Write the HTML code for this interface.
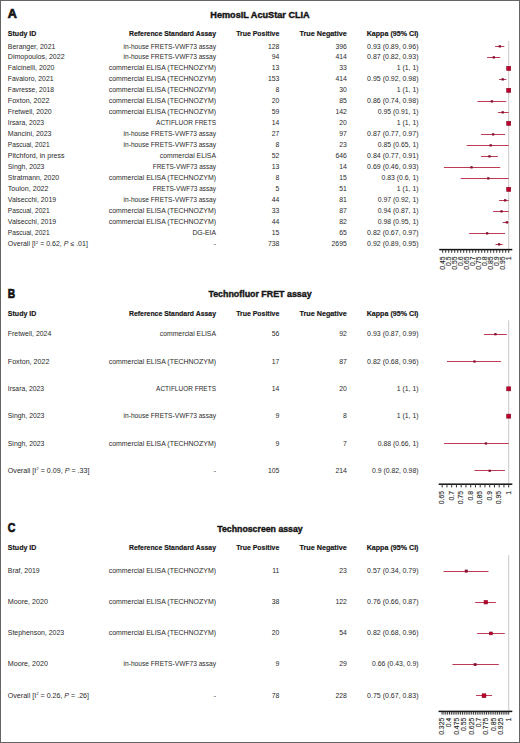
<!DOCTYPE html>
<html><head><meta charset="utf-8"><title>Forest plots</title>
<style>
html,body{margin:0;padding:0;background:#fff;}
body{width:520px;height:743px;overflow:hidden;}
svg{display:block;}
text{font-family:"Liberation Sans",sans-serif;font-size:6.85px;fill:#2a2a2a;stroke:#2a2a2a;stroke-width:0px;}
</style></head>
<body>
<svg width="520" height="743" viewBox="0 0 520 743">
<rect x="0" y="0" width="520" height="743" fill="#fff"/>
<text x="7.70" y="18.15" font-weight="bold" style="fill:#141414;stroke:#141414;font-size:12.6px;stroke-width:0.7px">A</text>
<text x="260.00" y="17.70" text-anchor="middle" font-weight="bold" style="fill:#141414;stroke:#141414;font-size:9.3px;stroke-width:0.4px" textLength="99.40" lengthAdjust="spacingAndGlyphs">HemosIL AcuStar CLIA</text>
<text x="7.80" y="36.00" font-weight="bold" style="fill:#141414;stroke:#141414;stroke-width:0.15px" textLength="28.56" lengthAdjust="spacingAndGlyphs">Study ID</text>
<text x="216.00" y="36.00" text-anchor="end" font-weight="bold" style="fill:#141414;stroke:#141414;stroke-width:0.15px" textLength="87.03" lengthAdjust="spacingAndGlyphs">Reference Standard Assay</text>
<text x="279.30" y="36.00" text-anchor="end" font-weight="bold" style="fill:#141414;stroke:#141414;stroke-width:0.15px" textLength="43.10" lengthAdjust="spacingAndGlyphs">True Positive</text>
<text x="346.80" y="36.00" text-anchor="end" font-weight="bold" style="fill:#141414;stroke:#141414;stroke-width:0.15px" textLength="47.38" lengthAdjust="spacingAndGlyphs">True Negative</text>
<text x="418.50" y="36.00" text-anchor="end" font-weight="bold" style="fill:#141414;stroke:#141414;stroke-width:0.15px" textLength="51.82" lengthAdjust="spacingAndGlyphs">Kappa (95% CI)</text>
<rect x="508.20" y="41.00" width="1.0" height="208.60" fill="#c9c9c9"/>
<text x="7.80" y="48.50" textLength="47.60" lengthAdjust="spacingAndGlyphs">Beranger, 2021</text>
<text x="216.00" y="48.50" text-anchor="end" textLength="92.46" lengthAdjust="spacingAndGlyphs">in-house FRETS-VWF73 assay</text>
<text x="279.30" y="48.50" text-anchor="end">128</text>
<text x="346.80" y="48.50" text-anchor="end">396</text>
<text x="418.50" y="48.50" text-anchor="end" textLength="51.42" lengthAdjust="spacingAndGlyphs">0.93 (0.89, 0.96)</text>
<rect x="495.14" y="46.00" width="9.12" height="1" fill="#bd3a55"/>
<rect x="498.67" y="45.20" width="2.30" height="2.30" fill="#861030"/>
<text x="7.80" y="59.48" textLength="56.76" lengthAdjust="spacingAndGlyphs">Dimopoulos, 2022</text>
<text x="216.00" y="59.48" text-anchor="end" textLength="92.46" lengthAdjust="spacingAndGlyphs">in-house FRETS-VWF73 assay</text>
<text x="279.30" y="59.48" text-anchor="end">94</text>
<text x="346.80" y="59.48" text-anchor="end">414</text>
<text x="418.50" y="59.48" text-anchor="end" textLength="51.42" lengthAdjust="spacingAndGlyphs">0.87 (0.82, 0.93)</text>
<rect x="487.10" y="57.00" width="13.20" height="1" fill="#bd3a55"/>
<rect x="492.67" y="56.20" width="2.30" height="2.30" fill="#861030"/>
<text x="7.80" y="70.47" textLength="46.65" lengthAdjust="spacingAndGlyphs">Falcinelli, 2020</text>
<text x="216.00" y="70.47" text-anchor="end" textLength="107.29" lengthAdjust="spacingAndGlyphs">commercial ELISA (TECHNOZYM)</text>
<text x="279.30" y="70.47" text-anchor="end">13</text>
<text x="346.80" y="70.47" text-anchor="end">33</text>
<text x="418.50" y="70.47" text-anchor="end">1 (1, 1)</text>
<rect x="506.70" y="66.35" width="4.00" height="4.00" fill="#bb002d" stroke="#8a0020" stroke-width="0.6"/>
<text x="7.80" y="81.45" textLength="45.75" lengthAdjust="spacingAndGlyphs">Favaloro, 2021</text>
<text x="216.00" y="81.45" text-anchor="end" textLength="107.29" lengthAdjust="spacingAndGlyphs">commercial ELISA (TECHNOZYM)</text>
<text x="279.30" y="81.45" text-anchor="end">153</text>
<text x="346.80" y="81.45" text-anchor="end">414</text>
<text x="418.50" y="81.45" text-anchor="end" textLength="51.42" lengthAdjust="spacingAndGlyphs">0.95 (0.92, 0.98)</text>
<rect x="499.10" y="79.00" width="7.20" height="1" fill="#bd3a55"/>
<rect x="501.55" y="78.20" width="2.30" height="2.30" fill="#861030"/>
<text x="7.80" y="92.44" textLength="46.17" lengthAdjust="spacingAndGlyphs">Favresse, 2018</text>
<text x="216.00" y="92.44" text-anchor="end" textLength="107.29" lengthAdjust="spacingAndGlyphs">commercial ELISA (TECHNOZYM)</text>
<text x="279.30" y="92.44" text-anchor="end">8</text>
<text x="346.80" y="92.44" text-anchor="end">30</text>
<text x="418.50" y="92.44" text-anchor="end">1 (1, 1)</text>
<rect x="506.70" y="88.35" width="4.00" height="4.00" fill="#bb002d" stroke="#8a0020" stroke-width="0.6"/>
<text x="7.80" y="103.42" textLength="41.65" lengthAdjust="spacingAndGlyphs">Foxton, 2022</text>
<text x="216.00" y="103.42" text-anchor="end" textLength="107.29" lengthAdjust="spacingAndGlyphs">commercial ELISA (TECHNOZYM)</text>
<text x="279.30" y="103.42" text-anchor="end">20</text>
<text x="346.80" y="103.42" text-anchor="end">85</text>
<text x="418.50" y="103.42" text-anchor="end" textLength="51.42" lengthAdjust="spacingAndGlyphs">0.86 (0.74, 0.98)</text>
<rect x="477.50" y="101.00" width="28.80" height="1" fill="#bd3a55"/>
<rect x="490.75" y="100.20" width="2.30" height="2.30" fill="#861030"/>
<text x="7.80" y="114.41" textLength="43.88" lengthAdjust="spacingAndGlyphs">Fretwell, 2020</text>
<text x="216.00" y="114.41" text-anchor="end" textLength="107.29" lengthAdjust="spacingAndGlyphs">commercial ELISA (TECHNOZYM)</text>
<text x="279.30" y="114.41" text-anchor="end">59</text>
<text x="346.80" y="114.41" text-anchor="end">142</text>
<text x="418.50" y="114.41" text-anchor="end">0.95 (0.91, 1)</text>
<rect x="497.90" y="112.00" width="10.80" height="1" fill="#bd3a55"/>
<rect x="501.55" y="111.20" width="2.30" height="2.30" fill="#861030"/>
<text x="7.80" y="125.39" textLength="36.32" lengthAdjust="spacingAndGlyphs">Irsara, 2023</text>
<text x="216.00" y="125.39" text-anchor="end" textLength="59.92" lengthAdjust="spacingAndGlyphs">ACTIFLUOR FRETS</text>
<text x="279.30" y="125.39" text-anchor="end">14</text>
<text x="346.80" y="125.39" text-anchor="end">20</text>
<text x="418.50" y="125.39" text-anchor="end">1 (1, 1)</text>
<rect x="506.70" y="121.35" width="4.00" height="4.00" fill="#bb002d" stroke="#8a0020" stroke-width="0.6"/>
<text x="7.80" y="136.38" textLength="43.71" lengthAdjust="spacingAndGlyphs">Mancini, 2023</text>
<text x="216.00" y="136.38" text-anchor="end" textLength="92.46" lengthAdjust="spacingAndGlyphs">in-house FRETS-VWF73 assay</text>
<text x="279.30" y="136.38" text-anchor="end">27</text>
<text x="346.80" y="136.38" text-anchor="end">97</text>
<text x="418.50" y="136.38" text-anchor="end" textLength="51.42" lengthAdjust="spacingAndGlyphs">0.87 (0.77, 0.97)</text>
<rect x="481.10" y="134.00" width="24.00" height="1" fill="#bd3a55"/>
<rect x="491.95" y="133.20" width="2.30" height="2.30" fill="#861030"/>
<text x="7.80" y="147.37" textLength="41.87" lengthAdjust="spacingAndGlyphs">Pascual, 2021</text>
<text x="216.00" y="147.37" text-anchor="end" textLength="92.46" lengthAdjust="spacingAndGlyphs">in-house FRETS-VWF73 assay</text>
<text x="279.30" y="147.37" text-anchor="end">8</text>
<text x="346.80" y="147.37" text-anchor="end">23</text>
<text x="418.50" y="147.37" text-anchor="end">0.85 (0.65, 1)</text>
<rect x="466.70" y="145.00" width="42.00" height="1" fill="#bd3a55"/>
<rect x="489.55" y="144.20" width="2.30" height="2.30" fill="#861030"/>
<text x="7.80" y="158.35" textLength="56.77" lengthAdjust="spacingAndGlyphs">Pitchford, in press</text>
<text x="216.00" y="158.35" text-anchor="end">commercial ELISA</text>
<text x="279.30" y="158.35" text-anchor="end">52</text>
<text x="346.80" y="158.35" text-anchor="end">646</text>
<text x="418.50" y="158.35" text-anchor="end" textLength="51.42" lengthAdjust="spacingAndGlyphs">0.84 (0.77, 0.91)</text>
<rect x="481.10" y="156.00" width="16.80" height="1" fill="#bd3a55"/>
<rect x="488.35" y="155.20" width="2.30" height="2.30" fill="#861030"/>
<text x="7.80" y="169.33" textLength="36.63" lengthAdjust="spacingAndGlyphs">Singh, 2023</text>
<text x="216.00" y="169.33" text-anchor="end" textLength="63.21" lengthAdjust="spacingAndGlyphs">FRETS-VWF73 assay</text>
<text x="279.30" y="169.33" text-anchor="end">13</text>
<text x="346.80" y="169.33" text-anchor="end">14</text>
<text x="418.50" y="169.33" text-anchor="end" textLength="51.42" lengthAdjust="spacingAndGlyphs">0.69 (0.46, 0.93)</text>
<rect x="443.90" y="167.00" width="56.40" height="1" fill="#bd3a55"/>
<rect x="470.35" y="166.20" width="2.30" height="2.30" fill="#861030"/>
<text x="7.80" y="180.32" textLength="51.40" lengthAdjust="spacingAndGlyphs">Stratmann, 2020</text>
<text x="216.00" y="180.32" text-anchor="end" textLength="107.29" lengthAdjust="spacingAndGlyphs">commercial ELISA (TECHNOZYM)</text>
<text x="279.30" y="180.32" text-anchor="end">8</text>
<text x="346.80" y="180.32" text-anchor="end">15</text>
<text x="418.50" y="180.32" text-anchor="end">0.83 (0.6, 1)</text>
<rect x="460.70" y="178.00" width="48.00" height="1" fill="#bd3a55"/>
<rect x="487.15" y="177.20" width="2.30" height="2.30" fill="#861030"/>
<text x="7.80" y="191.31" textLength="40.69" lengthAdjust="spacingAndGlyphs">Toulon, 2022</text>
<text x="216.00" y="191.31" text-anchor="end" textLength="63.21" lengthAdjust="spacingAndGlyphs">FRETS-VWF73 assay</text>
<text x="279.30" y="191.31" text-anchor="end">5</text>
<text x="346.80" y="191.31" text-anchor="end">51</text>
<text x="418.50" y="191.31" text-anchor="end">1 (1, 1)</text>
<rect x="506.70" y="187.35" width="4.00" height="4.00" fill="#bb002d" stroke="#8a0020" stroke-width="0.6"/>
<text x="7.80" y="202.29" textLength="48.31" lengthAdjust="spacingAndGlyphs">Valsecchi, 2019</text>
<text x="216.00" y="202.29" text-anchor="end" textLength="92.46" lengthAdjust="spacingAndGlyphs">in-house FRETS-VWF73 assay</text>
<text x="279.30" y="202.29" text-anchor="end">44</text>
<text x="346.80" y="202.29" text-anchor="end">81</text>
<text x="418.50" y="202.29" text-anchor="end">0.97 (0.92, 1)</text>
<rect x="499.10" y="200.00" width="9.60" height="1" fill="#bd3a55"/>
<rect x="503.95" y="199.20" width="2.30" height="2.30" fill="#861030"/>
<text x="7.80" y="213.27" textLength="41.87" lengthAdjust="spacingAndGlyphs">Pascual, 2021</text>
<text x="216.00" y="213.27" text-anchor="end" textLength="107.29" lengthAdjust="spacingAndGlyphs">commercial ELISA (TECHNOZYM)</text>
<text x="279.30" y="213.27" text-anchor="end">33</text>
<text x="346.80" y="213.27" text-anchor="end">87</text>
<text x="418.50" y="213.27" text-anchor="end">0.94 (0.87, 1)</text>
<rect x="493.10" y="211.00" width="15.60" height="1" fill="#bd3a55"/>
<rect x="500.35" y="210.20" width="2.30" height="2.30" fill="#861030"/>
<text x="7.80" y="224.26" textLength="48.31" lengthAdjust="spacingAndGlyphs">Valsecchi, 2019</text>
<text x="216.00" y="224.26" text-anchor="end" textLength="107.29" lengthAdjust="spacingAndGlyphs">commercial ELISA (TECHNOZYM)</text>
<text x="279.30" y="224.26" text-anchor="end">44</text>
<text x="346.80" y="224.26" text-anchor="end">82</text>
<text x="418.50" y="224.26" text-anchor="end">0.98 (0.95, 1)</text>
<rect x="502.70" y="222.00" width="6.00" height="1" fill="#bd3a55"/>
<rect x="505.75" y="221.20" width="2.30" height="2.30" fill="#861030"/>
<text x="7.80" y="235.25" textLength="41.87" lengthAdjust="spacingAndGlyphs">Pascual, 2021</text>
<text x="216.00" y="235.25" text-anchor="end">DG-EIA</text>
<text x="279.30" y="235.25" text-anchor="end">15</text>
<text x="346.80" y="235.25" text-anchor="end">65</text>
<text x="418.50" y="235.25" text-anchor="end" textLength="51.42" lengthAdjust="spacingAndGlyphs">0.82 (0.67, 0.97)</text>
<rect x="469.10" y="233.00" width="36.00" height="1" fill="#bd3a55"/>
<rect x="485.95" y="232.20" width="2.30" height="2.30" fill="#861030"/>
<text x="7.80" y="246.23" textLength="80.07" lengthAdjust="spacingAndGlyphs">Overall [I<tspan style="font-size:4.2px" dy="-2.6">2</tspan><tspan dy="2.6"> = 0.62, </tspan><tspan font-style="italic">P</tspan> &#8804; .01]</text>
<text x="216.00" y="246.23" text-anchor="end">-</text>
<text x="279.30" y="246.23" text-anchor="end">738</text>
<text x="346.80" y="246.23" text-anchor="end">2695</text>
<text x="418.50" y="246.23" text-anchor="end" textLength="51.42" lengthAdjust="spacingAndGlyphs">0.92 (0.89, 0.95)</text>
<rect x="495.50" y="244.00" width="7.20" height="1" fill="#bd3a55"/>
<rect x="497.95" y="243.20" width="2.30" height="2.30" fill="#861030"/>
<rect x="439.20" y="248.85" width="73.10" height="1.5" fill="#111"/>
<rect x="442.20" y="249.60" width="1.0" height="3.2" fill="#333"/>
<rect x="445.20" y="249.60" width="1.0" height="3.2" fill="#333"/>
<rect x="448.20" y="249.60" width="1.0" height="3.2" fill="#333"/>
<rect x="451.20" y="249.60" width="1.0" height="3.2" fill="#333"/>
<rect x="454.20" y="249.60" width="1.0" height="3.2" fill="#333"/>
<rect x="457.20" y="249.60" width="1.0" height="3.2" fill="#333"/>
<rect x="460.20" y="249.60" width="1.0" height="3.2" fill="#333"/>
<rect x="463.20" y="249.60" width="1.0" height="3.2" fill="#333"/>
<rect x="466.20" y="249.60" width="1.0" height="3.2" fill="#333"/>
<rect x="469.20" y="249.60" width="1.0" height="3.2" fill="#333"/>
<rect x="472.20" y="249.60" width="1.0" height="3.2" fill="#333"/>
<rect x="475.20" y="249.60" width="1.0" height="3.2" fill="#333"/>
<rect x="478.20" y="249.60" width="1.0" height="3.2" fill="#333"/>
<rect x="481.20" y="249.60" width="1.0" height="3.2" fill="#333"/>
<rect x="484.20" y="249.60" width="1.0" height="3.2" fill="#333"/>
<rect x="487.20" y="249.60" width="1.0" height="3.2" fill="#333"/>
<rect x="490.20" y="249.60" width="1.0" height="3.2" fill="#333"/>
<rect x="493.20" y="249.60" width="1.0" height="3.2" fill="#333"/>
<rect x="496.20" y="249.60" width="1.0" height="3.2" fill="#333"/>
<rect x="499.20" y="249.60" width="1.0" height="3.2" fill="#333"/>
<rect x="502.20" y="249.60" width="1.0" height="3.2" fill="#333"/>
<rect x="505.20" y="249.60" width="1.0" height="3.2" fill="#333"/>
<rect x="508.20" y="249.60" width="1.0" height="3.2" fill="#333"/>
<text transform="translate(444.65,256.40) rotate(-90)" text-anchor="end" style="font-size:6.85px;stroke-width:0.12px">0.45</text>
<text transform="translate(450.65,256.40) rotate(-90)" text-anchor="end" style="font-size:6.85px;stroke-width:0.12px">0.5</text>
<text transform="translate(456.65,256.40) rotate(-90)" text-anchor="end" style="font-size:6.85px;stroke-width:0.12px">0.55</text>
<text transform="translate(462.65,256.40) rotate(-90)" text-anchor="end" style="font-size:6.85px;stroke-width:0.12px">0.6</text>
<text transform="translate(468.65,256.40) rotate(-90)" text-anchor="end" style="font-size:6.85px;stroke-width:0.12px">0.65</text>
<text transform="translate(474.65,256.40) rotate(-90)" text-anchor="end" style="font-size:6.85px;stroke-width:0.12px">0.7</text>
<text transform="translate(480.65,256.40) rotate(-90)" text-anchor="end" style="font-size:6.85px;stroke-width:0.12px">0.75</text>
<text transform="translate(486.65,256.40) rotate(-90)" text-anchor="end" style="font-size:6.85px;stroke-width:0.12px">0.8</text>
<text transform="translate(492.65,256.40) rotate(-90)" text-anchor="end" style="font-size:6.85px;stroke-width:0.12px">0.85</text>
<text transform="translate(498.65,256.40) rotate(-90)" text-anchor="end" style="font-size:6.85px;stroke-width:0.12px">0.9</text>
<text transform="translate(504.65,256.40) rotate(-90)" text-anchor="end" style="font-size:6.85px;stroke-width:0.12px">0.95</text>
<text transform="translate(510.65,256.40) rotate(-90)" text-anchor="end" style="font-size:6.85px;stroke-width:0.12px">1</text>
<text x="7.70" y="297.65" font-weight="bold" style="fill:#141414;stroke:#141414;font-size:12.6px;stroke-width:0.7px" textLength="7.40" lengthAdjust="spacingAndGlyphs">B</text>
<text x="260.00" y="297.20" text-anchor="middle" font-weight="bold" style="fill:#141414;stroke:#141414;font-size:9.3px;stroke-width:0.4px" textLength="103.20" lengthAdjust="spacingAndGlyphs">Technofluor FRET assay</text>
<text x="7.80" y="315.50" font-weight="bold" style="fill:#141414;stroke:#141414;stroke-width:0.15px" textLength="28.56" lengthAdjust="spacingAndGlyphs">Study ID</text>
<text x="216.00" y="315.50" text-anchor="end" font-weight="bold" style="fill:#141414;stroke:#141414;stroke-width:0.15px" textLength="87.03" lengthAdjust="spacingAndGlyphs">Reference Standard Assay</text>
<text x="279.30" y="315.50" text-anchor="end" font-weight="bold" style="fill:#141414;stroke:#141414;stroke-width:0.15px" textLength="43.10" lengthAdjust="spacingAndGlyphs">True Positive</text>
<text x="346.80" y="315.50" text-anchor="end" font-weight="bold" style="fill:#141414;stroke:#141414;stroke-width:0.15px" textLength="47.38" lengthAdjust="spacingAndGlyphs">True Negative</text>
<text x="418.50" y="315.50" text-anchor="end" font-weight="bold" style="fill:#141414;stroke:#141414;stroke-width:0.15px" textLength="51.82" lengthAdjust="spacingAndGlyphs">Kappa (95% CI)</text>
<rect x="508.20" y="320.40" width="1.0" height="163.80" fill="#c9c9c9"/>
<text x="7.80" y="336.30" textLength="43.48" lengthAdjust="spacingAndGlyphs">Fretwell, 2024</text>
<text x="216.00" y="336.30" text-anchor="end">commercial ELISA</text>
<text x="279.30" y="336.30" text-anchor="end">56</text>
<text x="346.80" y="336.30" text-anchor="end">92</text>
<text x="418.50" y="336.30" text-anchor="end" textLength="51.42" lengthAdjust="spacingAndGlyphs">0.93 (0.87, 0.99)</text>
<rect x="484.00" y="334.00" width="22.80" height="1" fill="#bd3a55"/>
<rect x="494.25" y="333.05" width="2.30" height="2.30" fill="#861030"/>
<text x="7.80" y="363.60" textLength="41.65" lengthAdjust="spacingAndGlyphs">Foxton, 2022</text>
<text x="216.00" y="363.60" text-anchor="end" textLength="107.29" lengthAdjust="spacingAndGlyphs">commercial ELISA (TECHNOZYM)</text>
<text x="279.30" y="363.60" text-anchor="end">17</text>
<text x="346.80" y="363.60" text-anchor="end">87</text>
<text x="418.50" y="363.60" text-anchor="end" textLength="51.42" lengthAdjust="spacingAndGlyphs">0.82 (0.68, 0.96)</text>
<rect x="446.95" y="361.00" width="54.15" height="1" fill="#bd3a55"/>
<rect x="473.35" y="360.37" width="2.30" height="2.30" fill="#861030"/>
<text x="7.80" y="390.90" textLength="36.32" lengthAdjust="spacingAndGlyphs">Irsara, 2023</text>
<text x="216.00" y="390.90" text-anchor="end" textLength="59.92" lengthAdjust="spacingAndGlyphs">ACTIFLUOR FRETS</text>
<text x="279.30" y="390.90" text-anchor="end">14</text>
<text x="346.80" y="390.90" text-anchor="end">20</text>
<text x="418.50" y="390.90" text-anchor="end">1 (1, 1)</text>
<rect x="506.70" y="386.84" width="4.00" height="4.00" fill="#bb002d" stroke="#8a0020" stroke-width="0.6"/>
<text x="7.80" y="418.20" textLength="36.63" lengthAdjust="spacingAndGlyphs">Singh, 2023</text>
<text x="216.00" y="418.20" text-anchor="end" textLength="92.46" lengthAdjust="spacingAndGlyphs">in-house FRETS-VWF73 assay</text>
<text x="279.30" y="418.20" text-anchor="end">9</text>
<text x="346.80" y="418.20" text-anchor="end">8</text>
<text x="418.50" y="418.20" text-anchor="end">1 (1, 1)</text>
<rect x="506.70" y="414.16" width="4.00" height="4.00" fill="#bb002d" stroke="#8a0020" stroke-width="0.6"/>
<text x="7.80" y="445.50" textLength="36.63" lengthAdjust="spacingAndGlyphs">Singh, 2023</text>
<text x="216.00" y="445.50" text-anchor="end" textLength="107.29" lengthAdjust="spacingAndGlyphs">commercial ELISA (TECHNOZYM)</text>
<text x="279.30" y="445.50" text-anchor="end">9</text>
<text x="346.80" y="445.50" text-anchor="end">7</text>
<text x="418.50" y="445.50" text-anchor="end">0.88 (0.66, 1)</text>
<rect x="444.10" y="443.00" width="64.60" height="1" fill="#bd3a55"/>
<rect x="484.75" y="442.33" width="2.30" height="2.30" fill="#861030"/>
<text x="7.80" y="472.80" textLength="81.61" lengthAdjust="spacingAndGlyphs">Overall [I<tspan style="font-size:4.2px" dy="-2.6">2</tspan><tspan dy="2.6"> = 0.09, </tspan><tspan font-style="italic">P</tspan> = .33]</text>
<text x="216.00" y="472.80" text-anchor="end">-</text>
<text x="279.30" y="472.80" text-anchor="end">105</text>
<text x="346.80" y="472.80" text-anchor="end">214</text>
<text x="418.50" y="472.80" text-anchor="end">0.9 (0.82, 0.98)</text>
<rect x="474.50" y="470.00" width="30.40" height="1" fill="#bd3a55"/>
<rect x="488.55" y="469.65" width="2.30" height="2.30" fill="#861030"/>
<rect x="438.70" y="483.45" width="73.60" height="1.5" fill="#111"/>
<rect x="441.70" y="484.20" width="1.0" height="3.2" fill="#333"/>
<rect x="446.45" y="484.20" width="1.0" height="3.2" fill="#333"/>
<rect x="451.20" y="484.20" width="1.0" height="3.2" fill="#333"/>
<rect x="455.95" y="484.20" width="1.0" height="3.2" fill="#333"/>
<rect x="460.70" y="484.20" width="1.0" height="3.2" fill="#333"/>
<rect x="465.45" y="484.20" width="1.0" height="3.2" fill="#333"/>
<rect x="470.20" y="484.20" width="1.0" height="3.2" fill="#333"/>
<rect x="474.95" y="484.20" width="1.0" height="3.2" fill="#333"/>
<rect x="479.70" y="484.20" width="1.0" height="3.2" fill="#333"/>
<rect x="484.45" y="484.20" width="1.0" height="3.2" fill="#333"/>
<rect x="489.20" y="484.20" width="1.0" height="3.2" fill="#333"/>
<rect x="493.95" y="484.20" width="1.0" height="3.2" fill="#333"/>
<rect x="498.70" y="484.20" width="1.0" height="3.2" fill="#333"/>
<rect x="503.45" y="484.20" width="1.0" height="3.2" fill="#333"/>
<rect x="508.20" y="484.20" width="1.0" height="3.2" fill="#333"/>
<text transform="translate(444.15,491.00) rotate(-90)" text-anchor="end" style="font-size:6.85px;stroke-width:0.12px">0.65</text>
<text transform="translate(453.65,491.00) rotate(-90)" text-anchor="end" style="font-size:6.85px;stroke-width:0.12px">0.7</text>
<text transform="translate(463.15,491.00) rotate(-90)" text-anchor="end" style="font-size:6.85px;stroke-width:0.12px">0.75</text>
<text transform="translate(472.65,491.00) rotate(-90)" text-anchor="end" style="font-size:6.85px;stroke-width:0.12px">0.8</text>
<text transform="translate(482.15,491.00) rotate(-90)" text-anchor="end" style="font-size:6.85px;stroke-width:0.12px">0.85</text>
<text transform="translate(491.65,491.00) rotate(-90)" text-anchor="end" style="font-size:6.85px;stroke-width:0.12px">0.9</text>
<text transform="translate(501.15,491.00) rotate(-90)" text-anchor="end" style="font-size:6.85px;stroke-width:0.12px">0.95</text>
<text transform="translate(510.65,491.00) rotate(-90)" text-anchor="end" style="font-size:6.85px;stroke-width:0.12px">1</text>
<text x="7.70" y="532.15" font-weight="bold" style="fill:#141414;stroke:#141414;font-size:12.6px;stroke-width:0.7px" textLength="7.60" lengthAdjust="spacingAndGlyphs">C</text>
<text x="260.00" y="531.70" text-anchor="middle" font-weight="bold" style="fill:#141414;stroke:#141414;font-size:9.3px;stroke-width:0.4px" textLength="85.40" lengthAdjust="spacingAndGlyphs">Technoscreen assay</text>
<text x="7.80" y="550.00" font-weight="bold" style="fill:#141414;stroke:#141414;stroke-width:0.15px" textLength="28.56" lengthAdjust="spacingAndGlyphs">Study ID</text>
<text x="216.00" y="550.00" text-anchor="end" font-weight="bold" style="fill:#141414;stroke:#141414;stroke-width:0.15px" textLength="87.03" lengthAdjust="spacingAndGlyphs">Reference Standard Assay</text>
<text x="279.30" y="550.00" text-anchor="end" font-weight="bold" style="fill:#141414;stroke:#141414;stroke-width:0.15px" textLength="43.10" lengthAdjust="spacingAndGlyphs">True Positive</text>
<text x="346.80" y="550.00" text-anchor="end" font-weight="bold" style="fill:#141414;stroke:#141414;stroke-width:0.15px" textLength="47.38" lengthAdjust="spacingAndGlyphs">True Negative</text>
<text x="418.50" y="550.00" text-anchor="end" font-weight="bold" style="fill:#141414;stroke:#141414;stroke-width:0.15px" textLength="51.82" lengthAdjust="spacingAndGlyphs">Kappa (95% CI)</text>
<rect x="508.20" y="555.20" width="1.0" height="156.20" fill="#c9c9c9"/>
<text x="7.80" y="572.90" textLength="31.88" lengthAdjust="spacingAndGlyphs">Braf, 2019</text>
<text x="216.00" y="572.90" text-anchor="end" textLength="107.29" lengthAdjust="spacingAndGlyphs">commercial ELISA (TECHNOZYM)</text>
<text x="279.30" y="572.90" text-anchor="end">11</text>
<text x="346.80" y="572.90" text-anchor="end">23</text>
<text x="418.50" y="572.90" text-anchor="end" textLength="51.42" lengthAdjust="spacingAndGlyphs">0.57 (0.34, 0.79)</text>
<rect x="443.56" y="571.00" width="44.91" height="1" fill="#bd3a55"/>
<rect x="464.76" y="569.60" width="3.00" height="3.00" fill="#861030"/>
<text x="7.80" y="604.08" textLength="40.13" lengthAdjust="spacingAndGlyphs">Moore, 2020</text>
<text x="216.00" y="604.08" text-anchor="end" textLength="107.29" lengthAdjust="spacingAndGlyphs">commercial ELISA (TECHNOZYM)</text>
<text x="279.30" y="604.08" text-anchor="end">38</text>
<text x="346.80" y="604.08" text-anchor="end">122</text>
<text x="418.50" y="604.08" text-anchor="end" textLength="51.42" lengthAdjust="spacingAndGlyphs">0.76 (0.66, 0.87)</text>
<rect x="475.14" y="602.00" width="20.73" height="1" fill="#bd3a55"/>
<rect x="484.10" y="600.55" width="3.40" height="3.40" fill="#bb002d" stroke="#8a0020" stroke-width="0.6"/>
<text x="7.80" y="635.26" textLength="56.36" lengthAdjust="spacingAndGlyphs">Stephenson, 2023</text>
<text x="216.00" y="635.26" text-anchor="end" textLength="107.29" lengthAdjust="spacingAndGlyphs">commercial ELISA (TECHNOZYM)</text>
<text x="279.30" y="635.26" text-anchor="end">20</text>
<text x="346.80" y="635.26" text-anchor="end">54</text>
<text x="418.50" y="635.26" text-anchor="end" textLength="51.42" lengthAdjust="spacingAndGlyphs">0.82 (0.68, 0.96)</text>
<rect x="477.12" y="633.00" width="27.64" height="1" fill="#bd3a55"/>
<rect x="489.53" y="632.00" width="2.80" height="2.80" fill="#bb002d" stroke="#8a0020" stroke-width="0.6"/>
<text x="7.80" y="666.44" textLength="40.13" lengthAdjust="spacingAndGlyphs">Moore, 2020</text>
<text x="216.00" y="666.44" text-anchor="end" textLength="92.46" lengthAdjust="spacingAndGlyphs">in-house FRETS-VWF73 assay</text>
<text x="279.30" y="666.44" text-anchor="end">9</text>
<text x="346.80" y="666.44" text-anchor="end">29</text>
<text x="418.50" y="666.44" text-anchor="end">0.66 (0.43, 0.9)</text>
<rect x="452.44" y="664.00" width="46.39" height="1" fill="#bd3a55"/>
<rect x="473.74" y="663.15" width="2.80" height="2.80" fill="#861030"/>
<text x="7.80" y="697.62" textLength="81.21" lengthAdjust="spacingAndGlyphs">Overall [I<tspan style="font-size:4.2px" dy="-2.6">2</tspan><tspan dy="2.6"> = 0.26, </tspan><tspan font-style="italic">P</tspan> = .26]</text>
<text x="216.00" y="697.62" text-anchor="end">-</text>
<text x="279.30" y="697.62" text-anchor="end">78</text>
<text x="346.80" y="697.62" text-anchor="end">228</text>
<text x="418.50" y="697.62" text-anchor="end" textLength="51.42" lengthAdjust="spacingAndGlyphs">0.75 (0.67, 0.83)</text>
<rect x="476.13" y="695.00" width="15.79" height="1" fill="#bd3a55"/>
<rect x="482.12" y="693.80" width="3.80" height="3.80" fill="#bb002d" stroke="#8a0020" stroke-width="0.6"/>
<rect x="438.58" y="710.65" width="73.72" height="1.5" fill="#111"/>
<rect x="441.58" y="711.40" width="1.0" height="3.2" fill="#333"/>
<rect x="443.43" y="711.40" width="1.0" height="3.2" fill="#333"/>
<rect x="445.28" y="711.40" width="1.0" height="3.2" fill="#333"/>
<rect x="447.13" y="711.40" width="1.0" height="3.2" fill="#333"/>
<rect x="448.98" y="711.40" width="1.0" height="3.2" fill="#333"/>
<rect x="450.83" y="711.40" width="1.0" height="3.2" fill="#333"/>
<rect x="452.68" y="711.40" width="1.0" height="3.2" fill="#333"/>
<rect x="454.53" y="711.40" width="1.0" height="3.2" fill="#333"/>
<rect x="456.38" y="711.40" width="1.0" height="3.2" fill="#333"/>
<rect x="458.23" y="711.40" width="1.0" height="3.2" fill="#333"/>
<rect x="460.08" y="711.40" width="1.0" height="3.2" fill="#333"/>
<rect x="461.93" y="711.40" width="1.0" height="3.2" fill="#333"/>
<rect x="463.78" y="711.40" width="1.0" height="3.2" fill="#333"/>
<rect x="465.64" y="711.40" width="1.0" height="3.2" fill="#333"/>
<rect x="467.49" y="711.40" width="1.0" height="3.2" fill="#333"/>
<rect x="469.34" y="711.40" width="1.0" height="3.2" fill="#333"/>
<rect x="471.19" y="711.40" width="1.0" height="3.2" fill="#333"/>
<rect x="473.04" y="711.40" width="1.0" height="3.2" fill="#333"/>
<rect x="474.89" y="711.40" width="1.0" height="3.2" fill="#333"/>
<rect x="476.74" y="711.40" width="1.0" height="3.2" fill="#333"/>
<rect x="478.59" y="711.40" width="1.0" height="3.2" fill="#333"/>
<rect x="480.44" y="711.40" width="1.0" height="3.2" fill="#333"/>
<rect x="482.29" y="711.40" width="1.0" height="3.2" fill="#333"/>
<rect x="484.14" y="711.40" width="1.0" height="3.2" fill="#333"/>
<rect x="485.99" y="711.40" width="1.0" height="3.2" fill="#333"/>
<rect x="487.84" y="711.40" width="1.0" height="3.2" fill="#333"/>
<rect x="489.69" y="711.40" width="1.0" height="3.2" fill="#333"/>
<rect x="491.54" y="711.40" width="1.0" height="3.2" fill="#333"/>
<rect x="493.39" y="711.40" width="1.0" height="3.2" fill="#333"/>
<rect x="495.25" y="711.40" width="1.0" height="3.2" fill="#333"/>
<rect x="497.10" y="711.40" width="1.0" height="3.2" fill="#333"/>
<rect x="498.95" y="711.40" width="1.0" height="3.2" fill="#333"/>
<rect x="500.80" y="711.40" width="1.0" height="3.2" fill="#333"/>
<rect x="502.65" y="711.40" width="1.0" height="3.2" fill="#333"/>
<rect x="504.50" y="711.40" width="1.0" height="3.2" fill="#333"/>
<rect x="506.35" y="711.40" width="1.0" height="3.2" fill="#333"/>
<rect x="508.20" y="711.40" width="1.0" height="3.2" fill="#333"/>
<text transform="translate(444.03,717.70) rotate(-90)" text-anchor="end" style="font-size:6.85px;stroke-width:0.12px">0.325</text>
<text transform="translate(451.43,717.70) rotate(-90)" text-anchor="end" style="font-size:6.85px;stroke-width:0.12px">0.4</text>
<text transform="translate(458.83,717.70) rotate(-90)" text-anchor="end" style="font-size:6.85px;stroke-width:0.12px">0.475</text>
<text transform="translate(466.23,717.70) rotate(-90)" text-anchor="end" style="font-size:6.85px;stroke-width:0.12px">0.55</text>
<text transform="translate(473.64,717.70) rotate(-90)" text-anchor="end" style="font-size:6.85px;stroke-width:0.12px">0.625</text>
<text transform="translate(481.04,717.70) rotate(-90)" text-anchor="end" style="font-size:6.85px;stroke-width:0.12px">0.7</text>
<text transform="translate(488.44,717.70) rotate(-90)" text-anchor="end" style="font-size:6.85px;stroke-width:0.12px">0.775</text>
<text transform="translate(495.84,717.70) rotate(-90)" text-anchor="end" style="font-size:6.85px;stroke-width:0.12px">0.85</text>
<text transform="translate(503.25,717.70) rotate(-90)" text-anchor="end" style="font-size:6.85px;stroke-width:0.12px">0.925</text>
<text transform="translate(510.65,717.70) rotate(-90)" text-anchor="end" style="font-size:6.85px;stroke-width:0.12px">1</text>
<rect x="0.5" y="0.5" width="519" height="742" fill="none" stroke="#646464" stroke-width="1"/>
</svg>
</body></html>
